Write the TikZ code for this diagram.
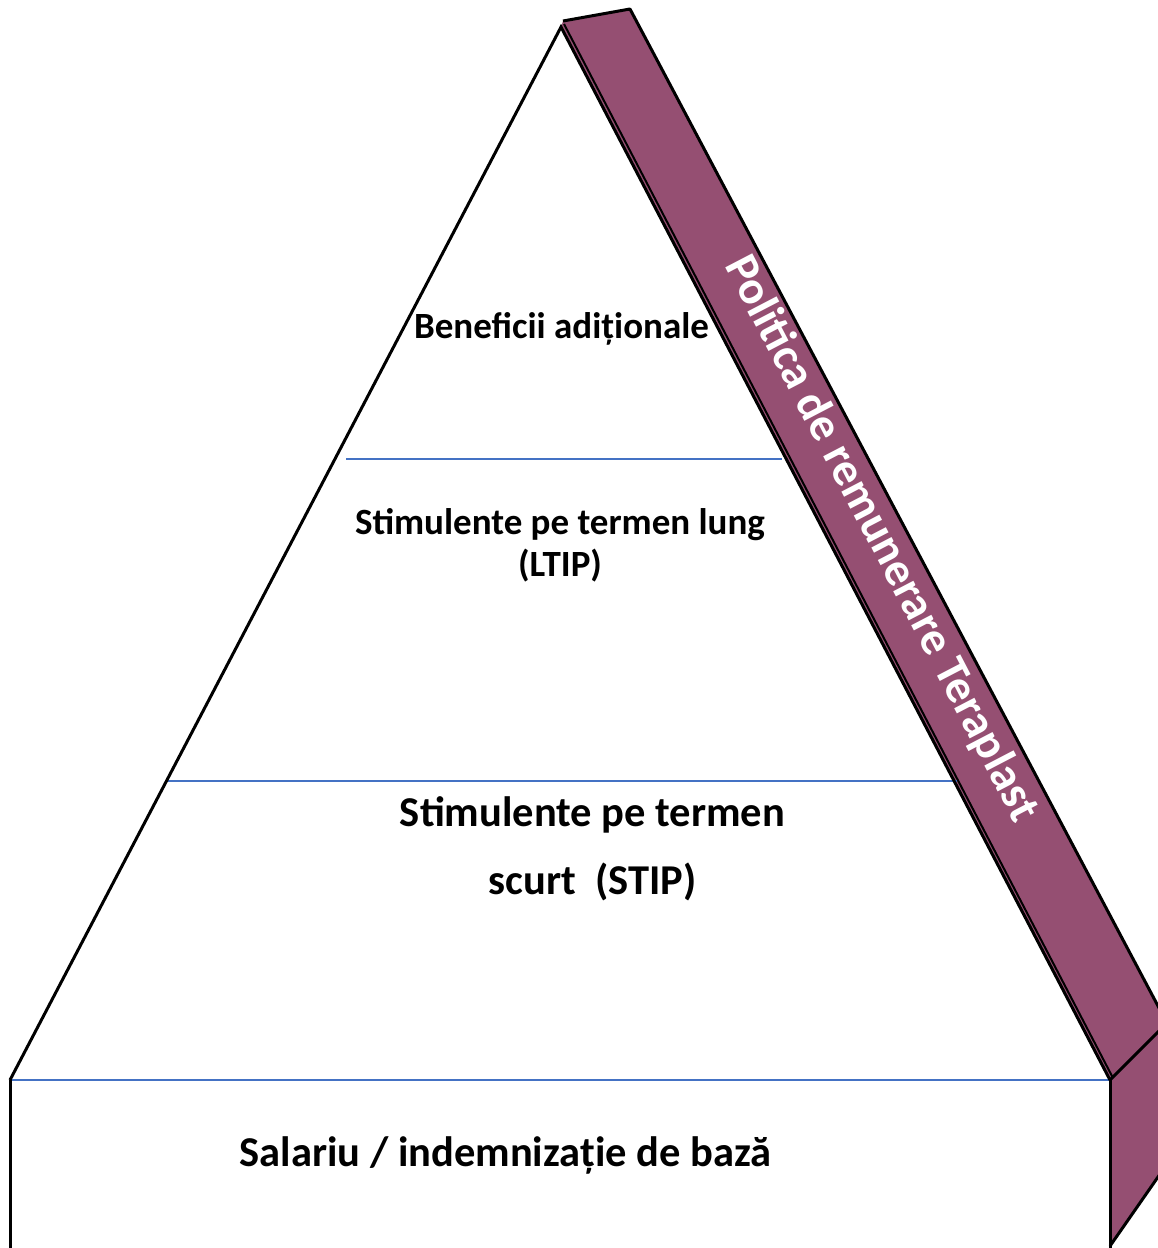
\documentclass[tikz,border=0pt]{standalone}
\usepackage{fontspec}
\setmainfont{Carlito}
\definecolor{bandcol}{HTML}{954F72}
\definecolor{tiercol}{HTML}{4472C4}
\begin{document}
\begin{tikzpicture}[x=1pt,y=-1pt,
  edge/.style={line width=3pt, black, line join=miter},
  bandedge/.style={line width=3pt, black, line join=round},
  tierline/.style={line width=1.3pt, tiercol},
  lbl/.style={font=\bfseries\fontsize{37}{42}\selectfont, align=center, inner sep=0pt, anchor=base},
  lblbig/.style={font=\bfseries\fontsize{42.5}{68}\selectfont, align=center, inner sep=0pt, anchor=base},
  bandlbl/.style={font=\bfseries\fontsize{47}{50}\selectfont, text=white, inner sep=0pt, rotate=-62.5}]
\useasboundingbox (0,0) rectangle (1158,1248);
\clip (0,0) rectangle (1158,1248);
% key points
\coordinate (apex) at (561,27);
\coordinate (bl) at (10,1080);
\coordinate (br) at (1110,1080);
\coordinate (blb) at (10,1260);
\coordinate (brb) at (1110,1248);
\coordinate (t1) at (563,21);
\coordinate (t1b) at (564,24);
\coordinate (t2) at (630,9);
\coordinate (brr) at (1113,1078);
\coordinate (rc) at (1167,1023);
\coordinate (sb) at (1167,1164);
\coordinate (sbl) at (1110,1246);
% band faces
\fill[bandcol] (apex) -- (t1) -- (t2) -- (rc) -- (br) -- cycle;
\fill[bandcol] (br) -- (rc) -- (sb) -- (sbl) -- cycle;
\draw[bandedge] (t1) -- (t2) -- (rc);
\draw[bandedge] (br) -- (rc);
\draw[bandedge] (sbl) -- (sb);
\draw[line width=2pt, black] (t1b) -- (brr);
% tier lines
\coordinate (l1a) at (346,459); \coordinate (l1b) at (782,459);
\coordinate (l2a) at (165,781); \coordinate (l2b) at (957,781);
\draw[tierline] (l1a) -- (l1b);
\draw[tierline] (l2a) -- (l2b);
\draw[tierline] (bl) -- (br);
% pyramid edges
\draw[edge] (bl) -- (apex) -- (br);
\draw[edge] (bl) -- (blb);
\draw[edge] (br) -- (brb);
% labels (base = baseline of the last line)
\node[lbl] (ben) at (561.5,338) {Beneficii adiționale};
\node[lbl] (ltip) at (560,576) {Stimulente pe termen lung\\(LTIP)};
\node[lblbig] (stip) at (592.5,894) {Stimulente pe termen\\scurt \ (STIP)};
\node[lblbig] (sal) at (505.5,1166) {Salariu / indemnizație de bază};
\node[bandlbl] (pol) at (881,539) {Politica de remunerare Teraplast};
\end{tikzpicture}
\end{document}
